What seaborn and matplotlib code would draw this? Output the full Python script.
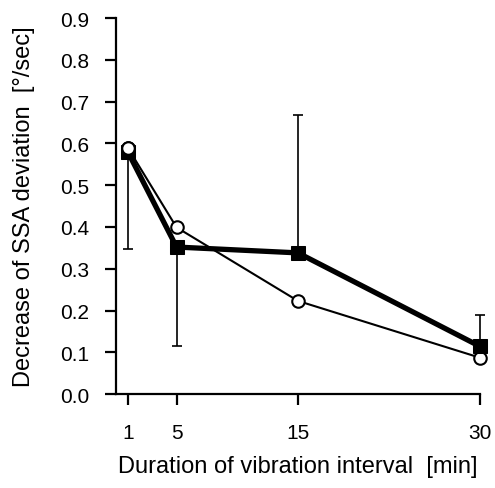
import numpy as np
import pandas as pd
import seaborn as sns
import matplotlib.pyplot as plt

# interval durations [min]
durations = [1, 5, 15, 30]
# filled squares (thick line)
filled_vals = [0.579, 0.352, 0.338, 0.114]
# open circles (thin line)
open_vals = [0.589, 0.399, 0.223, 0.087]
# one-sided error bars for the filled series
err_lower = [0.232, 0.236, 0.0, 0.0]
err_upper = [0.0, 0.0, 0.329, 0.075]

x_ticks = [1, 5, 15, 30]
y_ticks = [0.0, 0.1, 0.2, 0.3, 0.4, 0.5, 0.6, 0.7, 0.8, 0.9]

sns.set_style("ticks", {"axes.edgecolor": "black", "text.color": "black",
                        "axes.labelcolor": "black", "xtick.color": "black",
                        "ytick.color": "black"})
plt.rcParams['font.family'] = ['Liberation Sans', 'DejaVu Sans']

df_filled = pd.DataFrame({"x": durations, "y": filled_vals})
df_open = pd.DataFrame({"x": durations, "y": open_vals})

fig = plt.figure(figsize=(4.95, 4.89), dpi=100)
ax = fig.add_axes([0.234, 0.192, 0.736, 0.769])

ax.errorbar(durations, filled_vals, yerr=[err_lower, err_upper], fmt="none",
            ecolor="black", elinewidth=1.2, capsize=3.3, capthick=1.2,
            clip_on=False, zorder=2)

sns.lineplot(data=df_open, x="x", y="y", ax=ax, color="black", linewidth=1.5,
             marker="o", markersize=9, markerfacecolor="white",
             markeredgecolor="black", markeredgewidth=1.5, clip_on=False, zorder=3)
sns.lineplot(data=df_filled, x="x", y="y", ax=ax, color="black", linewidth=3.8,
             marker="s", markersize=10, markerfacecolor="black",
             markeredgecolor="black", clip_on=False, zorder=4)
# open circle sits on top at x=1 like the reference
ax.plot(durations[:1], open_vals[:1], "o", color="black", markersize=9,
        markerfacecolor="white", markeredgewidth=1.5, clip_on=False, zorder=5)

ax.set_xlim(0, 30)
ax.set_ylim(0, 0.9)
ax.set_xticks(x_ticks)
ax.set_xticklabels([str(t) for t in x_ticks])
ax.set_yticks(y_ticks)
ax.set_yticklabels([f"{t:.1f}" for t in y_ticks])

sns.despine(ax=ax)
for side in ["left", "bottom"]:
    ax.spines[side].set_linewidth(1.6)
    ax.spines[side].set_color("black")
ax.tick_params(axis="both", direction="out", length=8, width=1.6,
               labelsize=15, colors="black")
ax.tick_params(axis="x", pad=13)
ax.tick_params(axis="y", pad=11)

ax.set_xlabel("Duration of vibration interval  [min]", fontsize=17,
              labelpad=9, color="black")
ax.set_ylabel("Decrease of SSA deviation  [°/sec]", fontsize=17,
              labelpad=18, color="black")

fig.savefig("out.png", dpi=100)
